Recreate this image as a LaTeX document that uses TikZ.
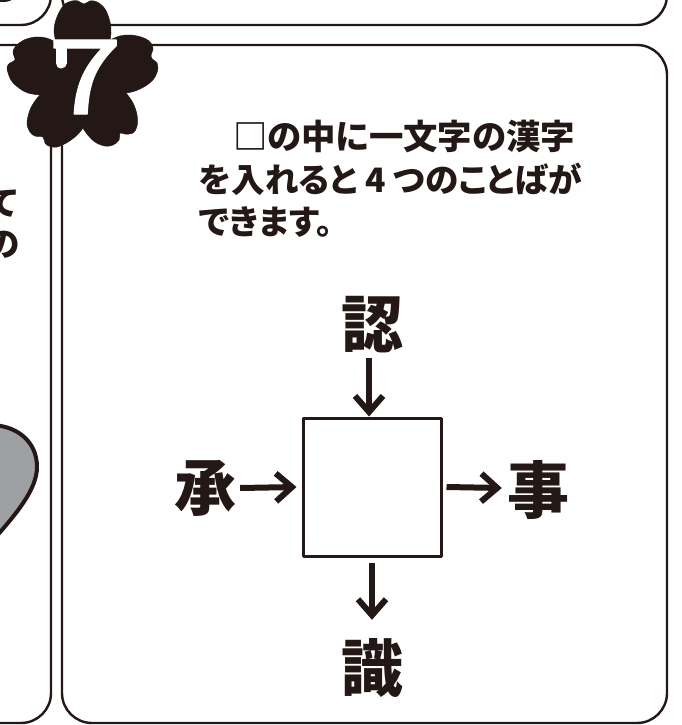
\documentclass[tikz,border=0pt]{standalone}
\usepackage{fontspec}
\usetikzlibrary{arrows.meta,positioning}
\newfontfamily\jpfont[RawFeature={+palt}]{Noto Sans CJK JP}
\definecolor{sumi}{HTML}{231815}
\definecolor{nezumi}{HTML}{9FA0A3}
\tikzset{frame/.style={
            draw=sumi,
            line width=2.4pt,
            rounded corners=30pt
        },
        petal/.style={
            fill=sumi,
            draw=sumi,
            line width=.5pt
        },
        lead/.style={
            font=\jpfont\bfseries\fontsize{33.6}{43}\selectfont,
            text=sumi,
            inner sep=0pt
        },
        kanji/.style={
            font=\jpfont\bfseries\fontsize{62}{62}\selectfont,
            text=sumi,
            inner sep=0pt,
            minimum size=60pt
        },
        masu/.style={
            draw=sumi,
            line width=3pt,
            inner sep=0pt,
            minimum size=138pt
        },
        link/.style={
            draw=sumi,
            line width=6pt,
            -{Straight Barb[length=16pt,width=28pt,line width=6pt]}
        }
    }
\begin{document}
\begin{tikzpicture}[x=1pt,y=-1pt,line join=round]
\clip (0,0) rectangle (681,725);
\draw[frame](-60,-40) rectangle (51,25);
\draw[frame](-60,45) rectangle (51,723);
\draw[frame](62,-40) rectangle (667,25);
\draw[frame](62,45) rectangle (667,723);
\fill[sumi](3,-2) ellipse (10 and 4);
\filldraw[draw=sumi,line width=4pt,fill=nezumi](-10,425)..controls (15,425) and (37,440)..(37,467)..controls (37,490) and (15,515)..(-5,538);
\node[lead] (te) at (3,204) {て};
\node[lead] (no) at (3,245) {の};
\filldraw[petal] (83,85) -- plot[smooth,tension=.6] coordinates {(56,42)(54,30)(57,17)(64,5)(72,1)(78,1)(84,4)(90,1)(97,2)(105,9)(110,22)(111,33)(110,40)} -- cycle;
\filldraw[petal] (83,85) -- plot[smooth,tension=.6] coordinates {(110,40)(120,36)(130,35)(141,37)(149,41)(153,48)(151,57)(157,63)(158,68)(155,77)(147,85)(135,91)(126,93)} -- cycle;
\filldraw[petal] (83,85) -- plot[smooth,tension=.6] coordinates {(126,93)(133,103)(137,115)(137,126)(133,133)(125,134)(120,133)(119,140)(113,145)(105,146)(95,142)(87,134)(83,128)} -- cycle;
\filldraw[petal] (83,85) -- plot[smooth,tension=.6] coordinates {(83,128)(77,135)(68,142)(57,147)(49,146)(45,143)(43,137)(35,136)(30,132)(27,123)(30,110)(35,101)(40,95)} -- cycle;
\filldraw[petal] (83,85) -- plot[smooth,tension=.6] coordinates {(40,95)(28,93)(19,88)(11,80)(7,68)(10,63)(15,60)(13,52)(16,46)(24,40)(36,37)(46,38)(56,42)} -- cycle;
\node[text=white,inner sep=0pt,xscale=1.3,transform shape,font=\jpfont\fontsize{104}{104}\selectfont\addfontfeature{FakeBold=1}] (seven) at (85,77) {7};
\draw[white,line width=11pt,line cap=round](61,63)--(61,48);
\node[lead,anchor=west,font=\jpfont\bfseries\fontsize{34.4}{43}\selectfont] (lineone) at (233,136) {□の中に一文字の漢字};
\node[lead,anchor=west] (linetwo) at (199,179) {を入れると 4 つのことばが};
\node[lead,anchor=west] (linethree) at (199,222) {できます。};
\node[masu] (box) at (372,487) {};
\node[kanji] (top) at (372,325) {認};
\node[kanji] (bottom) at (372,668) {識};
\node[kanji] (left) at (205,488) {承};
\node[kanji] (right) at (538,490) {事};
\draw[link] ([xshift=-3pt,yshift=-3pt]top.south) -- ([xshift=-3pt]box.north);
\draw[link] ([yshift=-5pt]box.south) -- ([yshift=18pt]bottom.north);
\draw[link] ([xshift=4pt]left.east) -- ([xshift=-5pt]box.west);
\draw[link] ([xshift=4pt]box.east) -- ([xshift=-5pt,yshift=2pt]right.west);
\end{tikzpicture}
\end{document}
